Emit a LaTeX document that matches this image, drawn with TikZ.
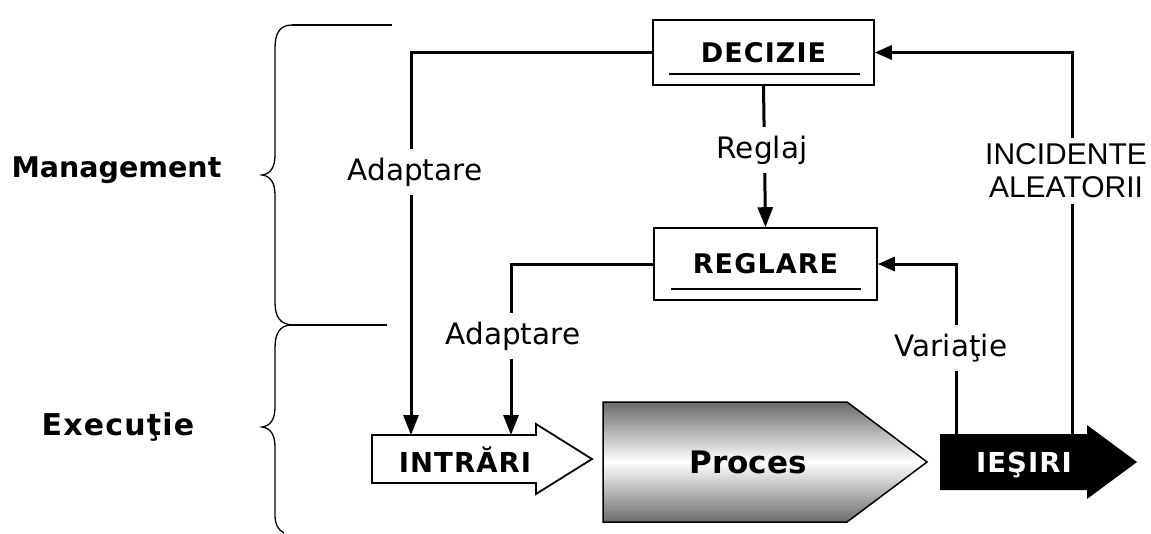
\documentclass[tikz,border=0pt]{standalone}
\usepackage{fontspec}
\setmainfont{DejaVu Sans}
\newfontfamily\arialfont{Liberation Sans}
\newfontfamily\widebold[LetterSpace=4]{DejaVu Sans Bold}
\usetikzlibrary{arrows.meta}
\begin{document}
\begin{tikzpicture}[x=1pt,y=-1pt,
  box/.style={draw, line width=1.6pt, inner sep=0pt, font=\fontsize{27}{30}\widebold},
  conn/.style={line width=3pt, -{Triangle[length=20pt,width=15pt]}},
  sideconn/.style={line width=3pt, -{Triangle[length=17pt,width=14pt]}},
  lab/.style={fill=white, inner xsep=3pt, inner ysep=9pt, font=\fontsize{29.5}{32}\selectfont},
  side/.style={font=\fontsize{28.5}{32}\selectfont\bfseries, anchor=base},
  brace/.style={line width=1.3pt},
  uline/.style={line width=2pt},
  ]
\useasboundingbox (0,0) rectangle (1151,533);

% braces
\draw[brace] (292,25) .. controls (280,25) and (275,33) .. (275,48) -- (275,155)
  .. controls (275,168) and (270,174) .. (262,175) .. controls (270,176) and (275,182) .. (275,195)
  -- (275,302) .. controls (275,317) and (280,324) .. (292,325);
\draw[brace] (292,25) -- (392,25);
\draw[brace] (290,325) -- (387,325);
\draw[brace] (290,325) .. controls (280,326) and (275,333) .. (275,348) -- (275,407)
  .. controls (275,420) and (270,426) .. (262,427) .. controls (270,428) and (275,434) .. (275,447)
  -- (275,515) .. controls (275,524) and (278,530) .. (284,533);

\node[side] (mgmt) at (116.5,177) {Management};
\node[side, font=\fontsize{30}{32}\widebold] (exec) at (118,435) {Execuţie};

% boxes
\node[box, minimum width=221pt, minimum height=65pt] (dec) at (763.5,52.5) {DECIZIE};
\node[box, minimum width=223pt, minimum height=72pt] (reg) at (765.5,264) {REGLARE};
\draw[uline] ([xshift=17pt,yshift=12pt]dec.south west) -- ([xshift=-15pt,yshift=12pt]dec.south east);
\draw[uline] ([xshift=18pt,yshift=12pt]reg.south west) -- ([xshift=-17pt,yshift=12pt]reg.south east);

% INTRARI arrow
\draw[line width=1.8pt, fill=white] (372,435) -- (536,435) -- (536,424) -- (592,459) -- (536,494) -- (536,483) -- (372,483) -- cycle;
\node[font=\fontsize{27.5}{30}\widebold, anchor=base] (intr) at (465,472) {INTRĂRI};
\coordinate (in1) at (411,435);
\coordinate (in2) at (511,435);

% Proces
\shade[top color=black!58, bottom color=black!58, middle color=white]
  (603,402) -- (847,402) -- (927,462) -- (847,522) -- (603,522) -- cycle;
\draw[line width=1.5pt] (603,402) -- (847,402) -- (927,462) -- (847,522) -- (603,522) -- cycle;
\node[font=\fontsize{31}{34}\selectfont\bfseries] (proc) at (748,462) {Proces};

% IESIRI arrow
\fill (940,434) -- (1087,434) -- (1087,425) -- (1137,462) -- (1087,499) -- (1087,490) -- (940,490) -- cycle;
\node[font=\fontsize{27.5}{30}\widebold, text=white, anchor=base] (ies) at (1024,472) {IEŞIRI};
\coordinate (out1) at (956,434);
\coordinate (out2) at (1072,434);

% connectors
\draw[conn] (dec.west) -| (in1);
\draw[conn] (reg.west) -| (in2);
\draw[conn] (dec.south) -- (reg.north);
\draw[sideconn] (out1) |- (reg.east);
\draw[sideconn] (out2) |- (dec.east);

% labels
\node[lab, anchor=base] (ad1) at (415,180) {Adaptare};
\node[lab, anchor=base] (ad2) at (513,344) {Adaptare};
\node[lab, anchor=base] (rgj) at (762,158) {Reglaj};
\node[lab, anchor=base] (var) at (951,356) {Variaţie};
\node[lab, inner ysep=6pt, font=\fontsize{30}{33}\arialfont, align=center] (inc) at (1066,171) {INCIDENTE\\ALEATORII};
\end{tikzpicture}
\end{document}
